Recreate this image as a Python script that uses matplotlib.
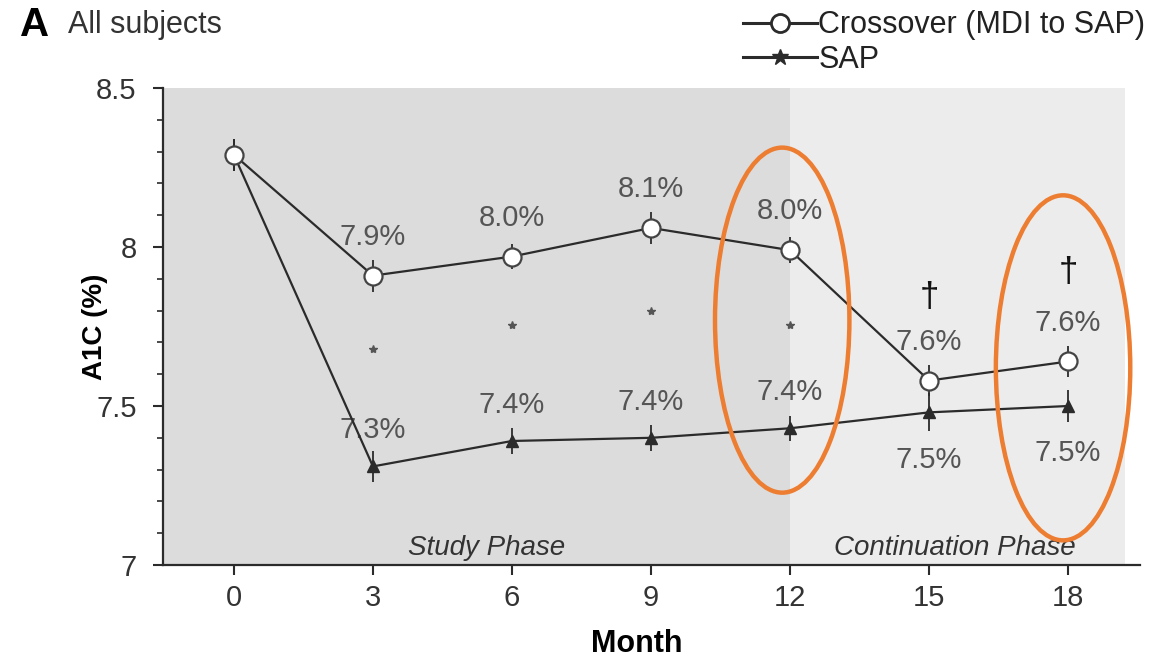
import matplotlib.pyplot as plt
from matplotlib.patches import Ellipse
from matplotlib.lines import Line2D
import numpy as np

months = [0, 3, 6, 9, 12, 15, 18]
crossover = [8.29, 7.91, 7.97, 8.06, 7.99, 7.58, 7.64]
crossover_err = [0.05, 0.05, 0.04, 0.05, 0.04, 0.05, 0.05]
crossover_labels = ["", "7.9%", "8.0%", "8.1%", "8.0%", "7.6%", "7.6%"]
sap = [8.29, 7.31, 7.39, 7.40, 7.43, 7.48, 7.50]
sap_err = [0.05, 0.05, 0.04, 0.04, 0.04, 0.06, 0.05]
sap_labels = ["", "7.3%", "7.4%", "7.4%", "7.4%", "7.5%", "7.5%"]

# significance marks
star_months = [3, 6, 9, 12]
star_y = [7.68, 7.755, 7.80, 7.755]
dagger_months = [15, 18]
dagger_y = [7.84, 7.92]

# highlighted months (orange rings)
ring_months = [11.83, 17.89]
ring_y = [7.77, 7.62]

plt.rcParams['font.family'] = ['Liberation Sans', 'DejaVu Sans']
fs = 21
dark = '#2b2b2b'
grey_txt = '#555555'

fig = plt.figure(figsize=(11.57, 6.63), dpi=100)
ax = fig.add_axes([163 / 1157, 1 - 565 / 663, (1140 - 163) / 1157, (565 - 88) / 663])
ax.set_xlim(-1.53, 19.55)
ax.set_ylim(7, 8.5)

ax.axvspan(-1.53, 12, color='#dcdcdc', zorder=0, lw=0)
ax.axvspan(12, 19.23, color='#ececec', zorder=0, lw=0)

ax.errorbar(months, sap, yerr=sap_err, color=dark, lw=1.6, marker='^',
            ms=9, mfc=dark, mec=dark, elinewidth=1.3, capsize=0, zorder=3)
ax.errorbar(months, crossover, yerr=crossover_err, color=dark, lw=1.6, marker='o',
            ms=13, mfc='white', mec='#444444', mew=1.6, elinewidth=1.3,
            capsize=0, zorder=4)

for m, v, lab in zip(months, crossover, crossover_labels):
    if lab:
        ax.annotate(lab, (m, v), xytext=(0, 28), textcoords='offset points',
                    ha='center', va='center', fontsize=fs, color=grey_txt)
for m, v, lab in zip(months, sap, sap_labels):
    if lab:
        dy = -34 if m >= 15 else 26
        ax.annotate(lab, (m, v), xytext=(0, dy), textcoords='offset points',
                    ha='center', va='center', fontsize=fs, color=grey_txt)

ax.plot(star_months, star_y, linestyle='none', marker='*', ms=6, color='#555555')
for m, y in zip(dagger_months, dagger_y):
    ax.text(m, y, '†', ha='center', va='center', fontsize=fs + 4, color='#111111')

ax.text(5.46, 7.053, 'Study Phase', style='italic', ha='center', va='center',
        fontsize=fs - 1, color='#333333')
ax.text(15.56, 7.053, 'Continuation Phase', style='italic', ha='center', va='center',
        fontsize=fs - 1, color='#333333')

for xm, ym in zip(ring_months, ring_y):
    ax.add_patch(Ellipse((xm, ym), 2.9, 1.085, fill=False, ec='#ED7D31', lw=3.2,
                         zorder=6, clip_on=False))

ax.set_xticks(months)
ax.set_yticks([7, 7.5, 8, 8.5])
ax.set_yticklabels(['7', '7.5', '8', '8.5'])
ax.set_yticks(np.arange(7, 8.5, 0.1), minor=True)
ax.tick_params(axis='both', direction='out', labelsize=fs, labelcolor='#333333',
               length=7, width=1.5, color=dark)
ax.tick_params(axis='x', pad=7)
ax.tick_params(axis='y', which='major', pad=12)
ax.tick_params(axis='y', which='minor', length=4, width=1.2, color=dark)
for s in ['top', 'right']:
    ax.spines[s].set_visible(False)
for s in ['left', 'bottom']:
    ax.spines[s].set_linewidth(1.6)
    ax.spines[s].set_color(dark)

ax.set_xlabel('Month', fontsize=fs + 1, fontweight='bold')
ax.xaxis.set_label_coords(0.485, -0.135)
ax.set_ylabel('A1C (%)', fontsize=fs - 1, fontweight='bold')
ax.yaxis.set_label_coords(-0.056, 0.5)

fig.text(20 / 1157, 1 - 25 / 663, 'A', fontsize=fs + 8, fontweight='bold', va='center')
fig.text(68 / 1157, 1 - 25 / 663, 'All subjects', fontsize=fs + 1, va='center', color='#333333')

handles = [
    Line2D([], [], color=dark, lw=2.2, marker='o', ms=13, mfc='white', mec=dark, mew=2),
    Line2D([], [], color=dark, lw=2.2, marker='*', ms=12, mfc=dark, mec=dark),
]
fig.legend(handles, ['Crossover (MDI to SAP)', 'SAP'], loc='upper left',
           bbox_to_anchor=(728 / 1157, 1 + 5 / 663), frameon=False, fontsize=fs + 1,
           handlelength=2.4, handletextpad=0.05, labelspacing=0.15, borderpad=0,
           labelcolor='#222222')

fig.savefig('out.png', dpi=100)
